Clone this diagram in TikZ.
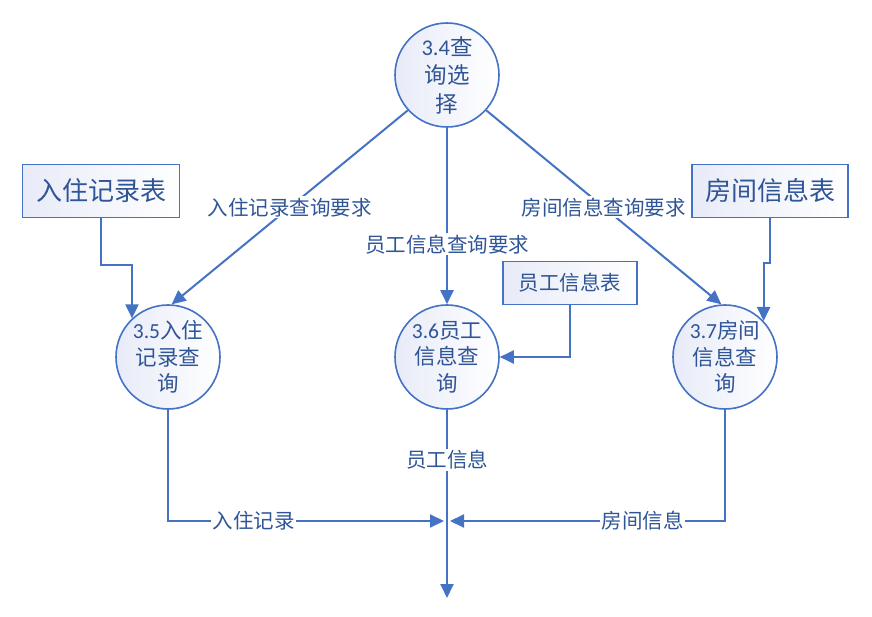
\documentclass[tikz,border=0pt]{standalone}
\usepackage{fontspec}
\setmainfont{Carlito}
\newfontfamily\cjk{Noto Sans CJK SC}
\usetikzlibrary{arrows.meta}
\definecolor{dfdline}{RGB}{68,114,196}
\definecolor{dfdtext}{RGB}{47,85,151}
\definecolor{dfdfill}{RGB}{232,235,248}
\newcommand{\pnum}[1]{{\rmfamily #1}}

\begin{document}
\begin{tikzpicture}[x=1pt,y=-1pt,
  proc/.style={circle,draw=dfdline,line width=1.6pt,minimum size=104pt,
    inner sep=0pt,left color=dfdfill,right color=white,text=dfdtext,
    align=center,font=\cjk\fontsize{21.5}{26.5}\selectfont},
  store/.style={rectangle,draw=dfdline,line width=1.8pt,left color=dfdfill,
    right color=white,text=dfdtext,inner sep=0pt},
  flow/.style={draw=dfdline,line width=2pt,
    -{Triangle[length=14pt,width=13pt]}},
  lbl/.style={fill=white,text=dfdtext,inner sep=1.5pt,
    font=\cjk\fontsize{20.5}{22}\selectfont}]
  \useasboundingbox (0,0) rectangle (872,617);
  \node[proc,font=\cjk\fontsize{22.5}{28.5}\selectfont] (c34) at (447,75)
    {\pnum{3.4}查\\询选\\择};
  \node[proc] (c35) at (168,357) {\pnum{3.5}入住\\记录查\\询};
  \node[proc] (c36) at (447,357) {\pnum{3.6}员工\\信息查\\询};
  \node[proc] (c37) at (725,357) {\pnum{3.7}房间\\信息查\\询};
  \node[store,minimum width=157pt,minimum height=53pt,
    font=\cjk\fontsize{26}{28}\selectfont] (s1) at (101,191) {入住记录表};
  \node[store,minimum width=156pt,minimum height=53pt,
    font=\cjk\fontsize{26}{28}\selectfont] (s3) at (770,191) {房间信息表};
  \node[store,minimum width=134pt,minimum height=43pt,
    font=\cjk\fontsize{20.5}{24}\selectfont] (s2) at (570,283) {员工信息表};
  \coordinate (jl) at (444,521);
  \coordinate (jr) at (450,521);
  \coordinate (out) at (447,598);
  \draw[flow]
    (c34.222)
    --
    (c35.86) node[lbl,pos=0.5] {入住记录查询要求};
  \draw[flow]
    (c34.south)
    --
    (c36.north) node[lbl,pos=0.66] {员工信息查询要求};
  \draw[flow]
    (c34.318)
    --
    (c37.94) node[lbl,pos=0.5] {房间信息查询要求};
  \draw[flow]
    (s1.south)
    --
    ++(0,47)
    -|
    (c35.133.5);
  \draw[flow]
    (s3.south)
    --
    ++(0,45)
    -|
    (c37.43.5);
  \draw[flow]
    (s2.south)
    |-
    (c36.east);
  \draw[flow]
    (c35.south)
    |-
    (jl) node[lbl,pos=0.655] {入住记录};
  \draw[flow]
    (c37.south)
    |-
    (jr) node[lbl,pos=0.65] {房间信息};
  \draw[flow]
    (c36.south)
    --
    (out) node[lbl,pos=0.265] {员工信息};
\end{tikzpicture}
\end{document}
